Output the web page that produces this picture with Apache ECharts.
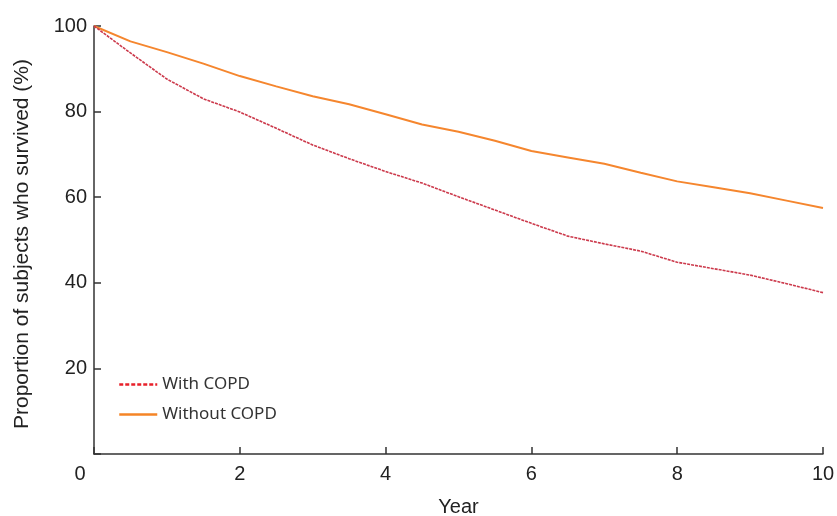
<!DOCTYPE html>
<html>
<head>
<meta charset="utf-8">
<script src="https://cdn.jsdelivr.net/npm/echarts@6/dist/echarts.min.js"></script>
<style>
  html, body { margin: 0; padding: 0; background: #fff; }
  #chart { width: 837px; height: 516px; }
</style>
</head>
<body>
<div id="chart"></div>
<script>
// 随访年份
const years = [0, 0.5, 1, 1.5, 2, 2.5, 3, 3.5, 4, 4.5, 5, 5.5, 6, 6.5, 7, 7.5, 8, 8.5, 9, 9.5, 10]
// 有COPD的生存比例 (%)
const withCopd = [100, 93.7, 87.6, 83.0, 79.9, 76.1, 72.2, 69.0, 66.0, 63.3, 60.1, 57.0, 53.9, 50.9, 49.1, 47.4, 44.8, 43.3, 41.8, 39.8, 37.7]
// 无COPD的生存比例 (%)
const withoutCopd = [100, 96.4, 93.9, 91.2, 88.3, 85.9, 83.6, 81.7, 79.4, 77.0, 75.3, 73.2, 70.8, 69.3, 67.8, 65.7, 63.7, 62.3, 60.9, 59.2, 57.5]
const yTicks = [20, 40, 60, 80, 100]

const axisFont = 'Liberation Sans, Arial, sans-serif'
const toPairs = (xs, ys) => xs.map((x, i) => [x, ys[i]])

let myChart = echarts.init(document.getElementById('chart'))
myChart.setOption({
    animation: false,
    grid: {
        left: 94,
        right: 14,
        top: 26,
        bottom: 62,
        containLabel: false,
        outerBoundsMode: 'none'
    },
    legend: {
        left: 113,
        top: 371,
        orient: 'vertical',
        itemWidth: 38,
        itemHeight: 12,
        itemGap: 13,
        itemStyle: { opacity: 0 },
        textStyle: {
            fontFamily: 'Noto Sans, sans-serif',
            fontSize: 17,
            color: '#333'
        },
        data: [
            { name: 'With COPD', lineStyle: { color: '#e8202a', type: [4, 2], width: 2.5 } },
            { name: 'Without COPD', lineStyle: { color: '#f58426', width: 2.5 } }
        ]
    },
    xAxis: {
        type: 'value',
        min: 0,
        max: 10,
        interval: 2,
        name: 'Year',
        nameLocation: 'middle',
        nameGap: 43,
        nameTextStyle: { fontFamily: axisFont, fontSize: 20, color: '#222' },
        axisLine: { lineStyle: { color: '#333', width: 1.5 } },
        axisTick: { inside: true, length: 7, lineStyle: { color: '#333', width: 1.5 } },
        axisLabel: {
            margin: 10,
            fontFamily: axisFont,
            fontSize: 20,
            color: '#222',
            formatter: v => v === 0 ? '{z|0}' : String(v),
            rich: {
                z: { fontFamily: axisFont, fontSize: 20, color: '#222', padding: [0, 28, 0, 0] }
            }
        },
        splitLine: { show: false }
    },
    yAxis: {
        type: 'value',
        min: 0,
        max: 100,
        interval: 20,
        name: 'Proportion of subjects who survived (%)',
        nameLocation: 'middle',
        nameGap: 61,
        nameTextStyle: { fontFamily: axisFont, fontSize: 21, color: '#222', padding: [0, 0, 0, -8] },
        axisLine: { show: true, lineStyle: { color: '#333', width: 1.5 } },
        axisTick: { show: true, inside: true, length: 7, lineStyle: { color: '#333', width: 1.5 } },
        axisLabel: {
            margin: 7,
            fontFamily: axisFont,
            fontSize: 20,
            color: '#222',
            formatter: v => yTicks.includes(v) ? String(v) : ''
        },
        splitLine: { show: false }
    },
    series: [
        {
            name: 'With COPD',
            type: 'line',
            showSymbol: false,
            symbol: 'none',
            data: toPairs(years, withCopd),
            lineStyle: { color: '#cc3a4c', width: 1.6, type: [3, 1] },
            itemStyle: { color: '#e8202a' },
            z: 3
        },
        {
            name: 'Without COPD',
            type: 'line',
            showSymbol: false,
            symbol: 'none',
            data: toPairs(years, withoutCopd),
            lineStyle: { color: '#f5862e', width: 2 },
            itemStyle: { color: '#f58426' },
            z: 2
        }
    ]
})
window.addEventListener('resize', function () {
    myChart.resize()
})
</script>
</body>
</html>
